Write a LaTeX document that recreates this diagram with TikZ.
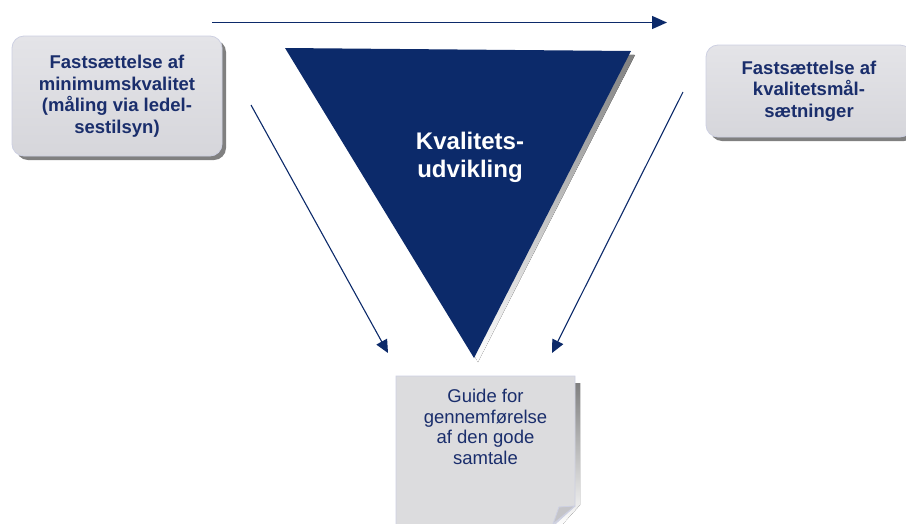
\documentclass[tikz,border=0pt]{standalone}
\usepackage{fontspec}
\setmainfont{Liberation Sans}
\usetikzlibrary{arrows.meta,shadows}
\definecolor{navy}{HTML}{0C2A6A}
\definecolor{txtnavy}{HTML}{1A2E6C}
\definecolor{boxtop}{HTML}{E4E4E8}
\definecolor{boxbot}{HTML}{D6D6DB}
\definecolor{notefill}{HTML}{DCDCDE}
\definecolor{boxedge}{HTML}{CDD0E2}
\definecolor{shade}{HTML}{808080}
\definecolor{flapfill}{HTML}{C4C4C8}
\tikzset{
  greybox/.style={rounded corners=12pt, top color=boxtop, bottom color=boxbot,
    draw=boxedge, line width=0.8pt, minimum width=210pt, minimum height=120pt,
    align=center, text=txtnavy, font=\fontsize{18.5}{21.5}\selectfont\bfseries,
    drop shadow={shadow xshift=4pt, shadow yshift=-4pt, fill=shade, opacity=1}},
  notetext/.style={align=center, text=txtnavy, font=\fontsize{18.5}{20.5}\selectfont},
  flow/.style={draw=navy, line width=1.4pt, -{Triangle[length=15pt,width=13pt]}},
  diag/.style={draw=navy, line width=1.1pt, -{Triangle[length=13pt,width=12pt]}},
}
\begin{document}
\begin{tikzpicture}[x=1pt,y=-1pt]
\useasboundingbox (0,0) rectangle (906,523);
% left box
\node[greybox] (left) at (117,96) {Fastsættelse af\\minimumskvalitet\\(måling via ledel-\\sestilsyn)};
% right box
\node[greybox, minimum width=206pt, minimum height=92pt] (right) at (809,91) {Fastsættelse af\\kvalitetsmål-\\sætninger};
% triangle
\fill[shade] (289,52) -- (635,55) -- (478,362) -- cycle;
\fill[navy] (285,48) -- (631,51) -- (474,358) -- cycle;
\node[text=white, align=center, font=\fontsize{24}{28}\selectfont\bfseries] (tri) at (470,157) {Kvalitets-\\udvikling};
% note
\fill[shade] (575,383) -- (580,383) -- (580,505) -- (561,526) -- (553,526) -- cycle;
\path[fill=notefill, draw=boxedge, line width=0.8pt]
  (396,376) -- (575,376) -- (575,506) -- (553,526) -- (396,526) -- cycle;
\path[fill=flapfill, draw=boxedge, line width=0.8pt, line join=round] (575,506) -- (559,507) -- (553,524) -- cycle;
\node[notetext] (note) at (485.5,427) {Guide for\\gennemførelse\\af den gode\\samtale};
% arrows
\coordinate (a1s) at (212,22.5);
\coordinate (a1e) at (667,22.5);
\coordinate (a2s) at (251,105);
\coordinate (a2e) at (388,353);
\coordinate (a3s) at (683,92);
\coordinate (a3e) at (552,353);
\draw[flow] (a1s) -- (a1e);
\draw[diag] (a2s) -- (a2e);
\draw[diag] (a3s) -- (a3e);
\end{tikzpicture}
\end{document}
